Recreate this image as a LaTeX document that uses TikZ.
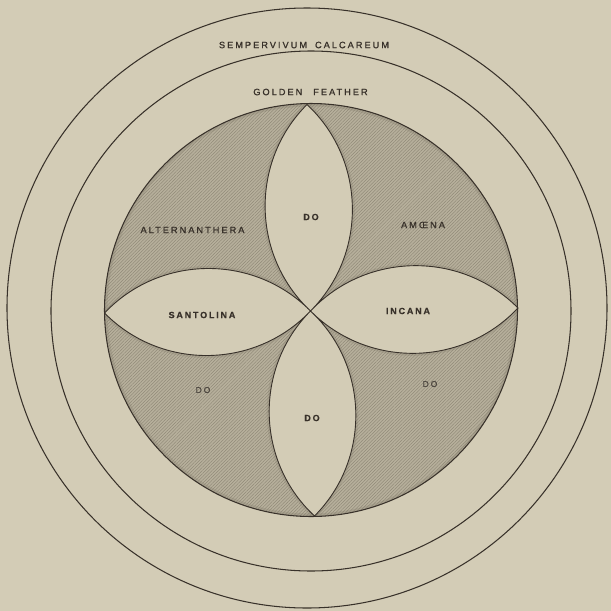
\documentclass[tikz,border=0pt]{standalone}
\usepackage{fontspec}
\usetikzlibrary{patterns.meta}
\newfontfamily\labfont[LetterSpace=22,FakeBold=1.2]{Liberation Sans}
\newfontfamily\labfontb[LetterSpace=20,FakeBold=0.6]{Liberation Sans Bold}
\newfontfamily\labfonts[LetterSpace=22,FakeBold=1.0]{Liberation Sans}
\definecolor{bgcol}{HTML}{D3CCB6}
\definecolor{shadecol}{HTML}{B6AF9B}
\definecolor{hatchcol}{HTML}{888170}
\definecolor{inkcol}{HTML}{38312A}
\tikzset{
  ring/.style={draw=inkcol, line width=1.05pt},
  lab/.style={text=inkcol, font=\labfont\fontsize{9.2}{10}\selectfont, inner sep=0pt},
  labb/.style={lab, font=\labfontb\fontsize{9}{10}\selectfont},
  labs/.style={lab, font=\labfonts\fontsize{8.5}{9}\selectfont, text=inkcol!90},
  petal/.style={bend left=46}
}
\begin{document}
\begin{tikzpicture}[x=1pt,y=-1pt]
\useasboundingbox (0,0) rectangle (611,611);
\fill[bgcol] (0,0) rectangle (611,611);
\coordinate (C) at (310.5,311);
\coordinate (Ttop) at (307,104.5);
\coordinate (Tbot) at (314.5,516);
\coordinate (Tl) at (104.5,313);
\coordinate (Tr) at (518,308);
\coordinate (Oi) at (311,310);
% shaded region
\def\shadedregion{(Oi) circle (206.5)
  (C) to[petal] (Ttop) to[petal] (C)
  (C) to[petal] (Tr) to[petal] (C)
  (C) to[petal] (Tbot) to[petal] (C)
  (C) to[petal] (Tl) to[petal] (C)}
\fill[shadecol, even odd rule] \shadedregion;
\fill[even odd rule, pattern={Lines[angle=45,distance=2.3pt,line width=0.35pt]}, pattern color=hatchcol] \shadedregion;
\begin{scope}[even odd rule]
  \clip \shadedregion;
  \draw[hatchcol, line width=6pt, opacity=0.3] (Oi) circle (206.5);
  \draw[hatchcol, line width=5pt, opacity=0.25]
    (C) to[petal] (Ttop) to[petal] (C)
    (C) to[petal] (Tr) to[petal] (C)
    (C) to[petal] (Tbot) to[petal] (C)
    (C) to[petal] (Tl) to[petal] (C);
\end{scope}
% outlines
\draw[ring] (307,308) circle (300);
\draw[ring] (311,311) circle (260);
\draw[ring] (Oi) circle (206.5);
\draw[ring, line width=0.9pt]
  (C) to[petal] (Ttop) to[petal] (C)
  (C) to[petal] (Tr) to[petal] (C)
  (C) to[petal] (Tbot) to[petal] (C)
  (C) to[petal] (Tl) to[petal] (C);
% labels
\node[lab] (semp) at (304,45) {SEMPERVIVUM\hspace{8pt}CALCAREUM};
\node[lab] (gold) at (310.5,92) {GOLDEN\hspace{11pt}FEATHER};
\node[lab] (alt) at (192.5,230) {ALTERNANTHERA};
\node[lab] (amo) at (423,225) {AMŒNA};
\node[labb] (san) at (202,315) {SANTOLINA};
\node[labb] (inc) at (408,311) {INCANA};
\node[labb] (dotop) at (311,217) {DO};
\node[labb] (dobot) at (312,418) {DO};
\node[labs] (dol) at (203,390) {DO};
\node[labs] (dor) at (430,384) {DO};
\end{tikzpicture}
\end{document}
